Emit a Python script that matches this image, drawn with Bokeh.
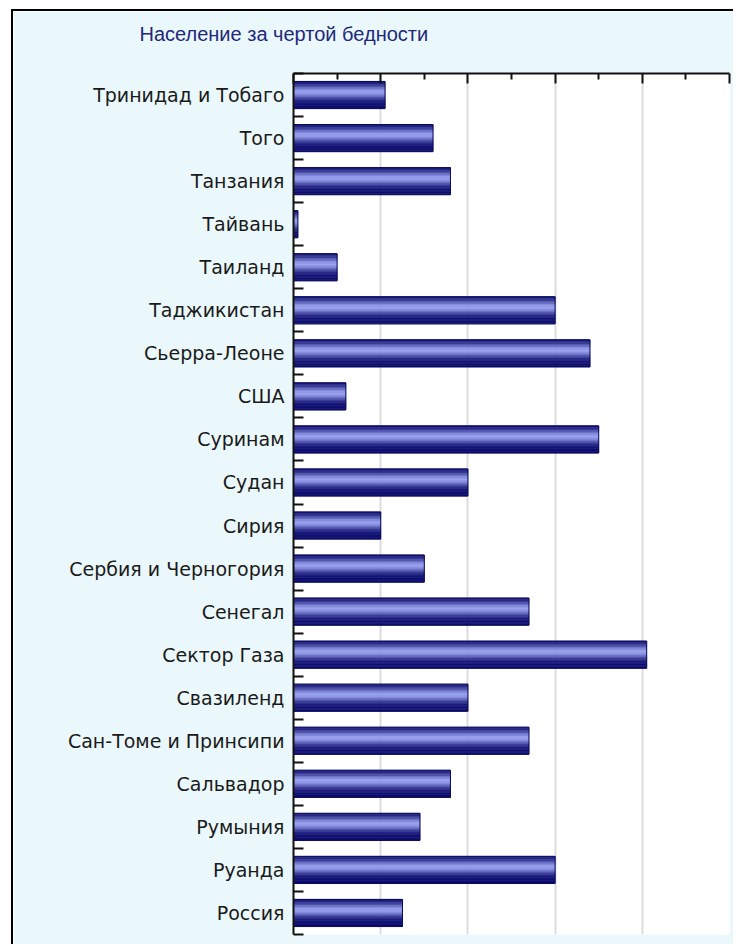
from bokeh.plotting import figure
from bokeh.models import Range1d, FixedTicker, CustomJSTickFormatter
from bokeh.embed import file_html
from bokeh.resources import INLINE
import math

# ---- data ----
countries = ["Тринидад и Тобаго", "Того", "Танзания", "Тайвань", "Таиланд",
             "Таджикистан", "Сьерра-Леоне", "США", "Суринам", "Судан",
             "Сирия", "Сербия и Черногория", "Сенегал", "Сектор Газа",
             "Свазиленд", "Сан-Томе и Принсипи", "Сальвадор", "Румыния",
             "Руанда", "Россия"]
poverty = [21, 32, 36, 1, 10, 60, 68, 12, 70, 40,
           20, 30, 54, 81, 40, 54, 36, 29, 60, 25]
x_major_ticks = [0, 20, 40, 60, 80, 100]
x_minor_ticks = [10, 30, 50, 70, 90]
title_text = "Население за чертой бедности"

n = len(countries)
centers = [n - i - 0.5 for i in range(n)]
bounds = list(range(0, n + 1))

p = figure(width=722, height=935, output_backend="svg", toolbar_location=None,
           x_range=Range1d(0, 100), y_range=Range1d(0, n),
           x_axis_location="above", min_border_left=280, min_border_right=6,
           min_border_top=62, min_border_bottom=12)
p.margin = (9, 0, 0, 11)
p.styles = {"border-left": "2px solid #000", "border-top": "2px solid #000"}
p.background_fill_color = "white"
p.border_fill_color = "#EBF8FB"
p.outline_line_color = None

p.title.text = title_text
p.title.text_font = "Liberation Sans"
p.title.text_font_size = "20px"
p.title.text_font_style = "normal"
p.title.text_color = "#22287a"
p.title.align = "left"
p.title.offset = -154
p.title.standoff = 4

# gradient bars made of horizontal strips
H = 0.63
N = 18
dark = (14, 14, 112)
light = (150, 158, 238)
for k in range(N):
    t = (k + 0.5) / N
    L = math.exp(-((t - 0.40) / 0.24) ** 2)
    c = tuple(int(dark[j] + (light[j] - dark[j]) * L) for j in range(3))
    col = "#%02x%02x%02x" % c
    off = H / 2 - (k + 0.5) * H / N
    p.hbar(y=[yc + off for yc in centers], right=poverty, left=0, height=H / N,
           fill_color=col, line_color=col, line_width=0.6)
p.hbar(y=centers, right=poverty, left=0, height=H, fill_color=None,
       line_color="#0b0b5c", line_width=1)

# x axis (top)
xa = p.xaxis[0]
xa.ticker = FixedTicker(ticks=x_major_ticks, minor_ticks=x_minor_ticks)
xa.formatter = CustomJSTickFormatter(code="return ''")
xa.axis_line_width = 2
xa.axis_line_color = "#111111"
xa.major_tick_in = 10
xa.major_tick_out = 0
xa.minor_tick_in = 6
xa.minor_tick_out = 0
xa.major_tick_line_width = 2
xa.minor_tick_line_width = 2
xa.major_tick_line_color = "#111111"
xa.minor_tick_line_color = "#111111"
xa.major_label_standoff = 0
xa.axis_label = " "
xa.axis_label_standoff = 2
xa.axis_label_text_font_size = "20px"

# y axis (left)
ya = p.yaxis[0]
ya.ticker = FixedTicker(ticks=centers, minor_ticks=bounds)
ya.major_label_overrides = {c: name for c, name in zip(centers, countries)}
ya.axis_line_width = 2
ya.axis_line_color = "#111111"
ya.major_tick_line_color = None
ya.major_tick_in = 0
ya.major_tick_out = 0
ya.minor_tick_in = 10
ya.minor_tick_out = 0
ya.minor_tick_line_width = 2
ya.minor_tick_line_color = "#111111"
ya.major_label_standoff = 9
ya.major_label_text_font = "DejaVu Sans"
ya.major_label_text_font_size = "19px"
ya.major_label_text_color = "#1a1a1a"

p.xgrid.ticker = FixedTicker(ticks=x_major_ticks)
p.xgrid.grid_line_color = "#dcdcdc"
p.xgrid.grid_line_width = 2
p.ygrid.grid_line_color = None

open("out.html", "w").write(file_html(p, INLINE))
